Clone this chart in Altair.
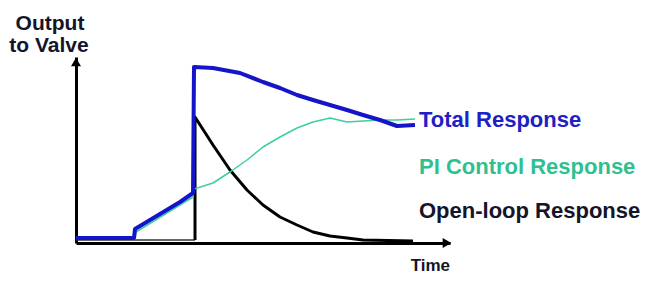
import altair as alt
import pandas as pd

# Total response (blue)
total_t = [0, 58, 59, 74, 89, 104, 117, 118, 137, 164, 187, 204, 221, 237, 254, 271, 287, 304, 321, 339]
total_v = [5, 5, 14, 23, 32, 41, 50, 176, 175, 170, 161, 155, 148, 143, 138, 133, 128, 123, 117, 118]

# PI control response (teal)
pi_t = [0, 59, 60, 117, 118, 137, 154, 171, 187, 204, 221, 237, 254, 271, 287, 304, 321, 339]
pi_v = [4, 4, 11, 46, 54, 60, 71, 83, 96, 106, 115, 121, 125, 121, 122, 123, 123, 124]

# Open-loop response (black): flat base, then step and decay
base_t = [0, 119]
base_v = [3, 3]
open_t = [119, 119, 137, 154, 171, 187, 204, 221, 237, 254, 271, 287, 337]
open_v = [3, 126, 98, 73, 53, 38, 26, 18, 11, 7, 5, 3, 2]

labels = ["Total Response", "PI Control Response", "Open-loop  Response"]
label_colors = ["#2020c4", "#2fc08f", "#14142a"]
y_title = ["Output", "to Valve"]
x_title = "Time"

def frame(ts, vs, name):
    return pd.DataFrame({"t": ts, "v": vs, "i": list(range(len(ts))), "s": name})

xs = alt.Scale(domain=[0, 374], nice=False, zero=False)
ys = alt.Scale(domain=[0, 186], nice=False, zero=False)
ax = alt.Axis(domain=True, ticks=False, labels=False, grid=False, title=None,
              domainColor="black", domainWidth=3)

def line(df, color, width):
    return alt.Chart(df).mark_line(color=color, strokeWidth=width, strokeJoin="round").encode(
        x=alt.X("t:Q", scale=xs, axis=ax),
        y=alt.Y("v:Q", scale=ys, axis=ax),
        order="i:Q",
    )

base_line = line(frame(base_t, base_v, "base"), "#333333", 1.5)
open_line = line(frame(open_t, open_v, "open"), "#000000", 3)
pi_line = line(frame(pi_t, pi_v, "pi"), "#3ccf9f", 1.5)
total_line = line(frame(total_t, total_v, "total"), "#1414c8", 4)

font = "Liberation Sans"

def txt(s, x, y, color, size, align="left"):
    return alt.Chart(pd.DataFrame({"s": [s]})).mark_text(
        font=font, fontWeight="bold", fontSize=size, color=color, align=align, baseline="alphabetic"
    ).encode(text="s:N", x=alt.value(x), y=alt.value(y))

texts = [
    txt(labels[0], 343, 70, label_colors[0], 22),
    txt(labels[1], 343, 117, label_colors[1], 22),
    txt(labels[2], 343, 161, label_colors[2], 22),
    txt(x_title, 374, 214, "#14142a", 17, "right"),
    txt(y_title[0], -26, -27, "#14142a", 21, "center"),
    txt(y_title[1], -27, -5, "#14142a", 21, "center"),
]

arrow_up = alt.Chart(pd.DataFrame({"a": [0]})).mark_point(
    shape="triangle-up", size=100, filled=True, color="black", opacity=1
).encode(x=alt.value(0), y=alt.value(5))
arrow_right = alt.Chart(pd.DataFrame({"a": [0]})).mark_point(
    shape="triangle-right", size=100, filled=True, color="black", opacity=1
).encode(x=alt.value(371), y=alt.value(186))

chart = alt.layer(
    base_line, open_line, pi_line, total_line, arrow_up, arrow_right, *texts
).properties(
    width=374, height=186,
    padding={"left": 68, "top": 49, "right": 193, "bottom": 31},
    autosize=alt.AutoSizeParams(type="none"),
    background="white",
).configure_view(stroke=None)

chart.save("out.html", embed_options={"renderer": "svg", "actions": False})
